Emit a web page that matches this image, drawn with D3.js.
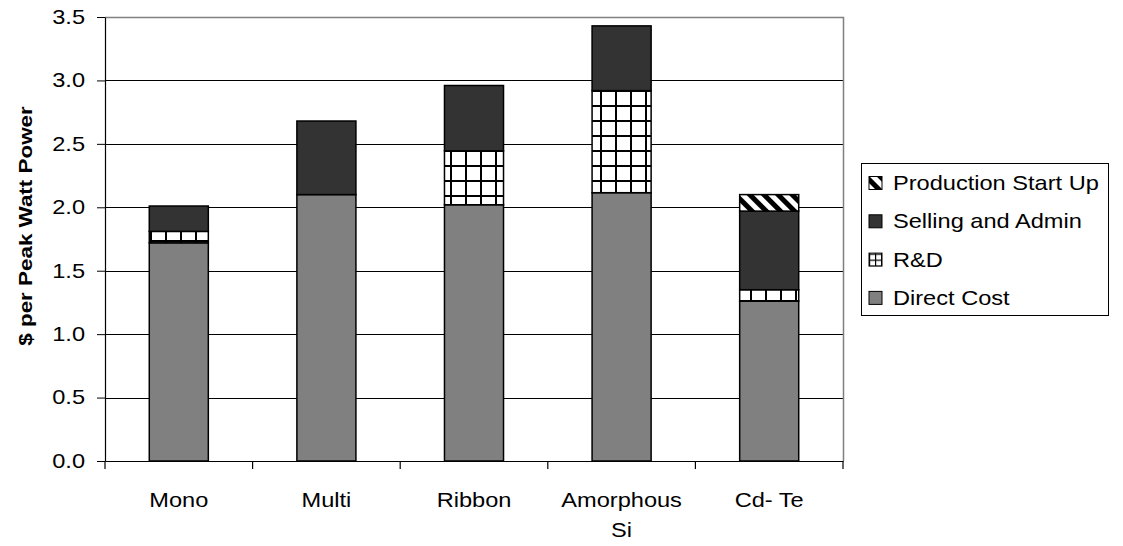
<!DOCTYPE html>
<html>
<head>
<meta charset="utf-8">
<script src="https://cdn.jsdelivr.net/npm/d3@7"></script>
<style>
  html, body { margin: 0; padding: 0; background: #fff; }
  svg { display: block; font-family: "Liberation Sans", Arial, sans-serif; }
</style>
</head>
<body>
<svg id="chart" width="1123" height="546"></svg>
<script>
// ---- Data ----
const categories = ["Mono", "Multi", "Ribbon", "Amorphous Si", "Cd- Te"];
const seriesNames = ["Direct Cost", "R&D", "Selling and Admin", "Production Start Up"];
const directCost = [1.72, 2.10, 2.02, 2.115, 1.26];
const rAndD = [0.09, 0.0, 0.425, 0.805, 0.09];
const sellingAdmin = [0.20, 0.58, 0.515, 0.51, 0.62];
const productionStartUp = [0.0, 0.0, 0.0, 0.0, 0.13];
const yTickValues = [0, 0.5, 1.0, 1.5, 2.0, 2.5, 3.0, 3.5];
const yTitle = "$ per Peak Watt Power";

// ---- Build table ----
const seriesValues = [directCost, rAndD, sellingAdmin, productionStartUp];
const table = categories.map((c, i) => {
  const row = { category: c };
  seriesNames.forEach((s, k) => row[s] = seriesValues[k][i]);
  return row;
});
const stacked = d3.stack().keys(seriesNames)(table);

// ---- Layout ----
const SX = 1.18; // horizontal text stretch of the original picture
const FONT = 20;
const svg = d3.select("#chart");
const plot = { left: 105, right: 843, top: 17, bottom: 461 };

const x = d3.scaleBand().domain(categories)
  .range([plot.left, plot.right]).paddingInner(0.6).paddingOuter(0.3);
const y = d3.scaleLinear().domain([0, 3.5]).range([plot.bottom, plot.top]);

// ---- Patterns ----
const defs = svg.append("defs");
const grid = defs.append("pattern").attr("id", "pat-grid")
  .attr("patternUnits", "userSpaceOnUse").attr("width", 15).attr("height", 15);
grid.append("rect").attr("width", 15).attr("height", 15).attr("fill", "#fff");
grid.append("rect").attr("x", 0).attr("y", 0).attr("width", 15).attr("height", 2).attr("fill", "#000");
grid.append("rect").attr("x", 0).attr("y", 0).attr("width", 2).attr("height", 15).attr("fill", "#000");

const stripe = defs.append("pattern").attr("id", "pat-stripe")
  .attr("patternUnits", "userSpaceOnUse").attr("width", 10).attr("height", 10)
  .attr("patternTransform", "rotate(-45)");
stripe.append("rect").attr("width", 10).attr("height", 10).attr("fill", "#fff");
stripe.append("rect").attr("width", 5).attr("height", 10).attr("fill", "#000");

const legendGrid = defs.append("pattern").attr("id", "pat-grid-small")
  .attr("patternUnits", "userSpaceOnUse").attr("width", 6).attr("height", 6);
legendGrid.append("rect").attr("width", 6).attr("height", 6).attr("fill", "#fff");
legendGrid.append("rect").attr("width", 6).attr("height", 1.2).attr("fill", "#000");
legendGrid.append("rect").attr("width", 1.2).attr("height", 6).attr("fill", "#000");

const fills = {
  "Direct Cost": "#808080",
  "R&D": "url(#pat-grid)",
  "Selling and Admin": "#333333",
  "Production Start Up": "url(#pat-stripe)"
};
const legendFills = Object.assign({}, fills, { "R&D": "url(#pat-grid-small)" });

// ---- Gridlines ----
svg.append("g").selectAll("line")
  .data(yTickValues.filter(v => v > 0 && v < 3.5))
  .join("line")
  .attr("x1", plot.left).attr("x2", plot.right)
  .attr("y1", d => Math.round(y(d)) + 0.5).attr("y2", d => Math.round(y(d)) + 0.5)
  .attr("stroke", "#000").attr("stroke-width", 1);

// plot border (top and right)
svg.append("path")
  .attr("d", `M${plot.left},${plot.top + 0.5} H${plot.right + 0.5} V${plot.bottom}`)
  .attr("fill", "none").attr("stroke", "#808080").attr("stroke-width", 1.5);

// ---- Bars ----
svg.append("g").selectAll("g")
  .data(stacked)
  .join("g")
  .attr("fill", d => fills[d.key])
  .selectAll("rect")
  .data(d => d.filter(p => p[1] - p[0] > 0))
  .join("rect")
  .attr("x", d => x(d.data.category))
  .attr("y", d => y(d[1]))
  .attr("width", x.bandwidth())
  .attr("height", d => y(d[0]) - y(d[1]))
  .attr("stroke", "#000").attr("stroke-width", 1.5);

// ---- Y axis ----
const yAxis = svg.append("g")
  .attr("transform", `translate(${plot.left},0)`)
  .call(d3.axisLeft(y).tickValues(yTickValues).tickFormat(d3.format(".1f"))
    .tickSizeInner(8).tickSizeOuter(0).tickPadding(12));
yAxis.select(".domain").attr("stroke", "#000").attr("stroke-width", 1.2);
yAxis.selectAll(".tick line").attr("stroke", "#000");
yAxis.selectAll("text").attr("font-size", FONT).attr("fill", "#000")
  .attr("font-family", "'Liberation Sans', Arial, sans-serif")
  .each(function () {
    const t = d3.select(this);
    t.attr("x", (+t.attr("x")) / SX).attr("transform", `scale(${SX},1)`);
  });

// ---- X axis ----
const xAxis = svg.append("g")
  .attr("transform", `translate(0,${plot.bottom})`)
  .call(d3.axisBottom(x).tickSize(0).tickPadding(32));
xAxis.select(".domain").attr("stroke", "#000").attr("stroke-width", 1.2);
xAxis.selectAll("text").attr("font-size", FONT).attr("fill", "#000")
  .attr("font-family", "'Liberation Sans', Arial, sans-serif");
// boundary ticks between categories
const boundaries = categories.map(c => x(c) - (x.step() - x.bandwidth()) / 2)
  .concat([plot.right]);
xAxis.append("g").selectAll("line").data(boundaries).join("line")
  .attr("x1", d => d).attr("x2", d => d).attr("y1", 0).attr("y2", 8)
  .attr("stroke", "#000").attr("stroke-width", 1.2);

// wrap long labels, then stretch
xAxis.selectAll(".tick text").each(function () {
  const t = d3.select(this);
  const words = t.text().split(" ");
  if (this.getComputedTextLength() > 100 && words.length > 1) {
    t.text(null);
    const dy = t.attr("dy");
    words.forEach((w, i) => {
      t.append("tspan").attr("x", 0).attr("dy", i === 0 ? dy : "1.5em").text(w);
    });
  }
  t.attr("transform", `scale(${SX},1)`);
});

// ---- Y title ----
svg.append("text")
  .attr("transform", `translate(32,${(plot.top + plot.bottom) / 2 - 13}) rotate(-90) scale(${SX},1)`)
  .attr("text-anchor", "middle")
  .attr("font-size", 19).attr("font-weight", "bold")
  .text(yTitle);

// ---- Legend ----
const legend = svg.append("g");
legend.append("rect")
  .attr("x", 861.5).attr("y", 163.5).attr("width", 247).attr("height", 152)
  .attr("fill", "#fff").attr("stroke", "#000").attr("stroke-width", 1);
const legendOrder = seriesNames.slice().reverse();
const li = legend.selectAll("g.item").data(legendOrder).join("g")
  .attr("transform", (d, i) => `translate(869,${183 + i * 38.3})`);
li.append("rect")
  .attr("x", 0).attr("y", -6.5).attr("width", 13).attr("height", 13)
  .attr("fill", d => legendFills[d]).attr("stroke", "#000").attr("stroke-width", 1);
li.append("text")
  .attr("x", 24 / SX).attr("y", 0).attr("dy", "0.35em")
  .attr("transform", `scale(${SX},1)`)
  .attr("font-size", FONT).attr("fill", "#000")
  .text(d => d);
</script>
</body>
</html>
